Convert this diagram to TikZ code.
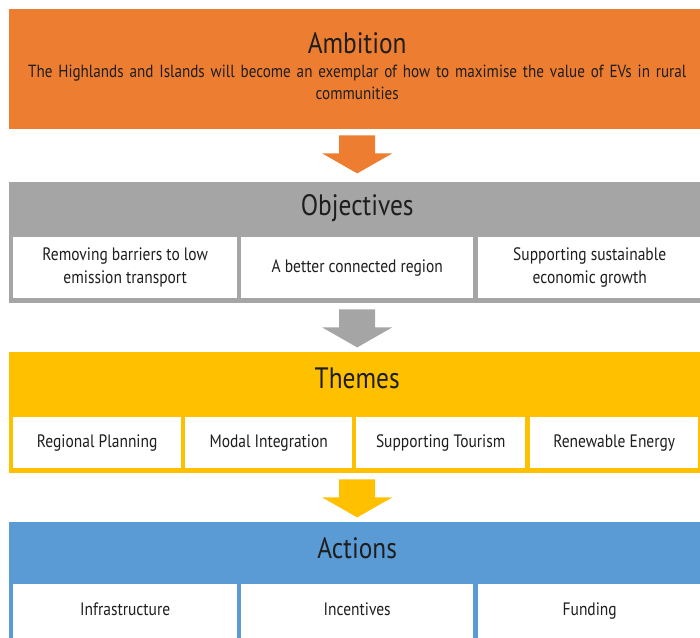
\documentclass[tikz,border=0pt]{standalone}
\usepackage{fontspec}
\setmainfont{PT Sans}[FakeStretch=0.86]
\usetikzlibrary{calc}
\definecolor{ambor}{HTML}{ED7D31}
\definecolor{objgr}{HTML}{A5A5A5}
\definecolor{themy}{HTML}{FFC000}
\definecolor{actbl}{HTML}{5B9BD5}
\definecolor{ink}{HTML}{1E1E1E}

% block arrow pointing down, top centre at #1
\newcommand{\blockdown}[2]{%
  \fill[#2] ($(#1)+(-18,0)$) -- ($(#1)+(18,0)$) -- ($(#1)+(18,18)$) -- ($(#1)+(35,18)$)
    -- ($(#1)+(0,38)$) -- ($(#1)+(-35,18)$) -- ($(#1)+(-18,18)$) -- cycle;}

\begin{document}
\begin{tikzpicture}[x=1pt,y=-1pt,
  band/.style={fill=#1, draw=none, inner sep=0pt, anchor=north west, minimum width=696pt},
  cell/.style={fill=white, draw=none, inner sep=0pt, anchor=north west, align=center,
    text=ink, font=\fontsize{18}{23}\selectfont},
  oneline/.style={cell, text height=13pt, text depth=4pt},
  heading/.style={text=ink, inner sep=0pt, anchor=center, font=\fontsize{29.5}{32}\selectfont},
  bodytext/.style={text=ink, inner sep=0pt, anchor=center, align=center,
    font=\fontsize{17.6}{22}\selectfont}]
\clip (0,0) rectangle (700,637);

% Ambition
\node[band=ambor, minimum height=120pt] (amb) at (9,9) {};
\node[heading] (ambt) at ($(amb.north)+(0,34)$) {Ambition};
\node[bodytext, text width=690pt] (ambd) at ($(amb.north)+(0,73)$)
  {The Highlands and Islands will become an exemplar of how to maximise the value of EVs in rural\\communities};

% Objectives
\node[band=objgr, minimum height=121pt] (obj) at (9,182) {};
\node[heading] (objt) at ($(obj.north)+(0,26)$) {Objectives};
\node[cell, minimum width=224pt, minimum height=61pt] (o1) at (13,237) {Removing barriers to low\\emission transport};
\node[oneline, minimum width=232pt, minimum height=61pt] (o2) at (241,237) {A better connected region};
\node[cell, minimum width=223pt, minimum height=61pt] (o3) at (478,237) {Supporting sustainable\\economic growth};

% Themes
\node[band=themy, minimum height=121pt] (thm) at (9,352) {};
\node[heading] (thmt) at ($(thm.north)+(0,26)$) {Themes};
\node[oneline, minimum width=168pt, minimum height=51pt] (t1) at (13,417) {Regional Planning};
\node[oneline, minimum width=167pt, minimum height=51pt] (t2) at (185,417) {Modal Integration};
\node[oneline, minimum width=169pt, minimum height=51pt] (t3) at (356,417) {Supporting Tourism};
\node[oneline, minimum width=168pt, minimum height=51pt] (t4) at (530,417) {Renewable Energy};

% Actions
\node[band=actbl, minimum height=130pt] (act) at (9,522) {};
\node[heading] (actt) at ($(act.north)+(0,26)$) {Actions};
\node[oneline, minimum width=224pt, minimum height=54pt] (a1) at (13,584) {Infrastructure};
\node[oneline, minimum width=232pt, minimum height=54pt] (a2) at (241,584) {Incentives};
\node[oneline, minimum width=223pt, minimum height=54pt] (a3) at (478,584) {Funding};

% Arrows between the levels
\coordinate (d1) at ($(amb.south)+(0,6)$);
\coordinate (d2) at ($(obj.south)+(0,6)$);
\coordinate (d3) at ($(thm.south)+(0,6)$);
\blockdown{d1}{ambor}
\blockdown{d2}{objgr}
\blockdown{d3}{themy}
\end{tikzpicture}
\end{document}
